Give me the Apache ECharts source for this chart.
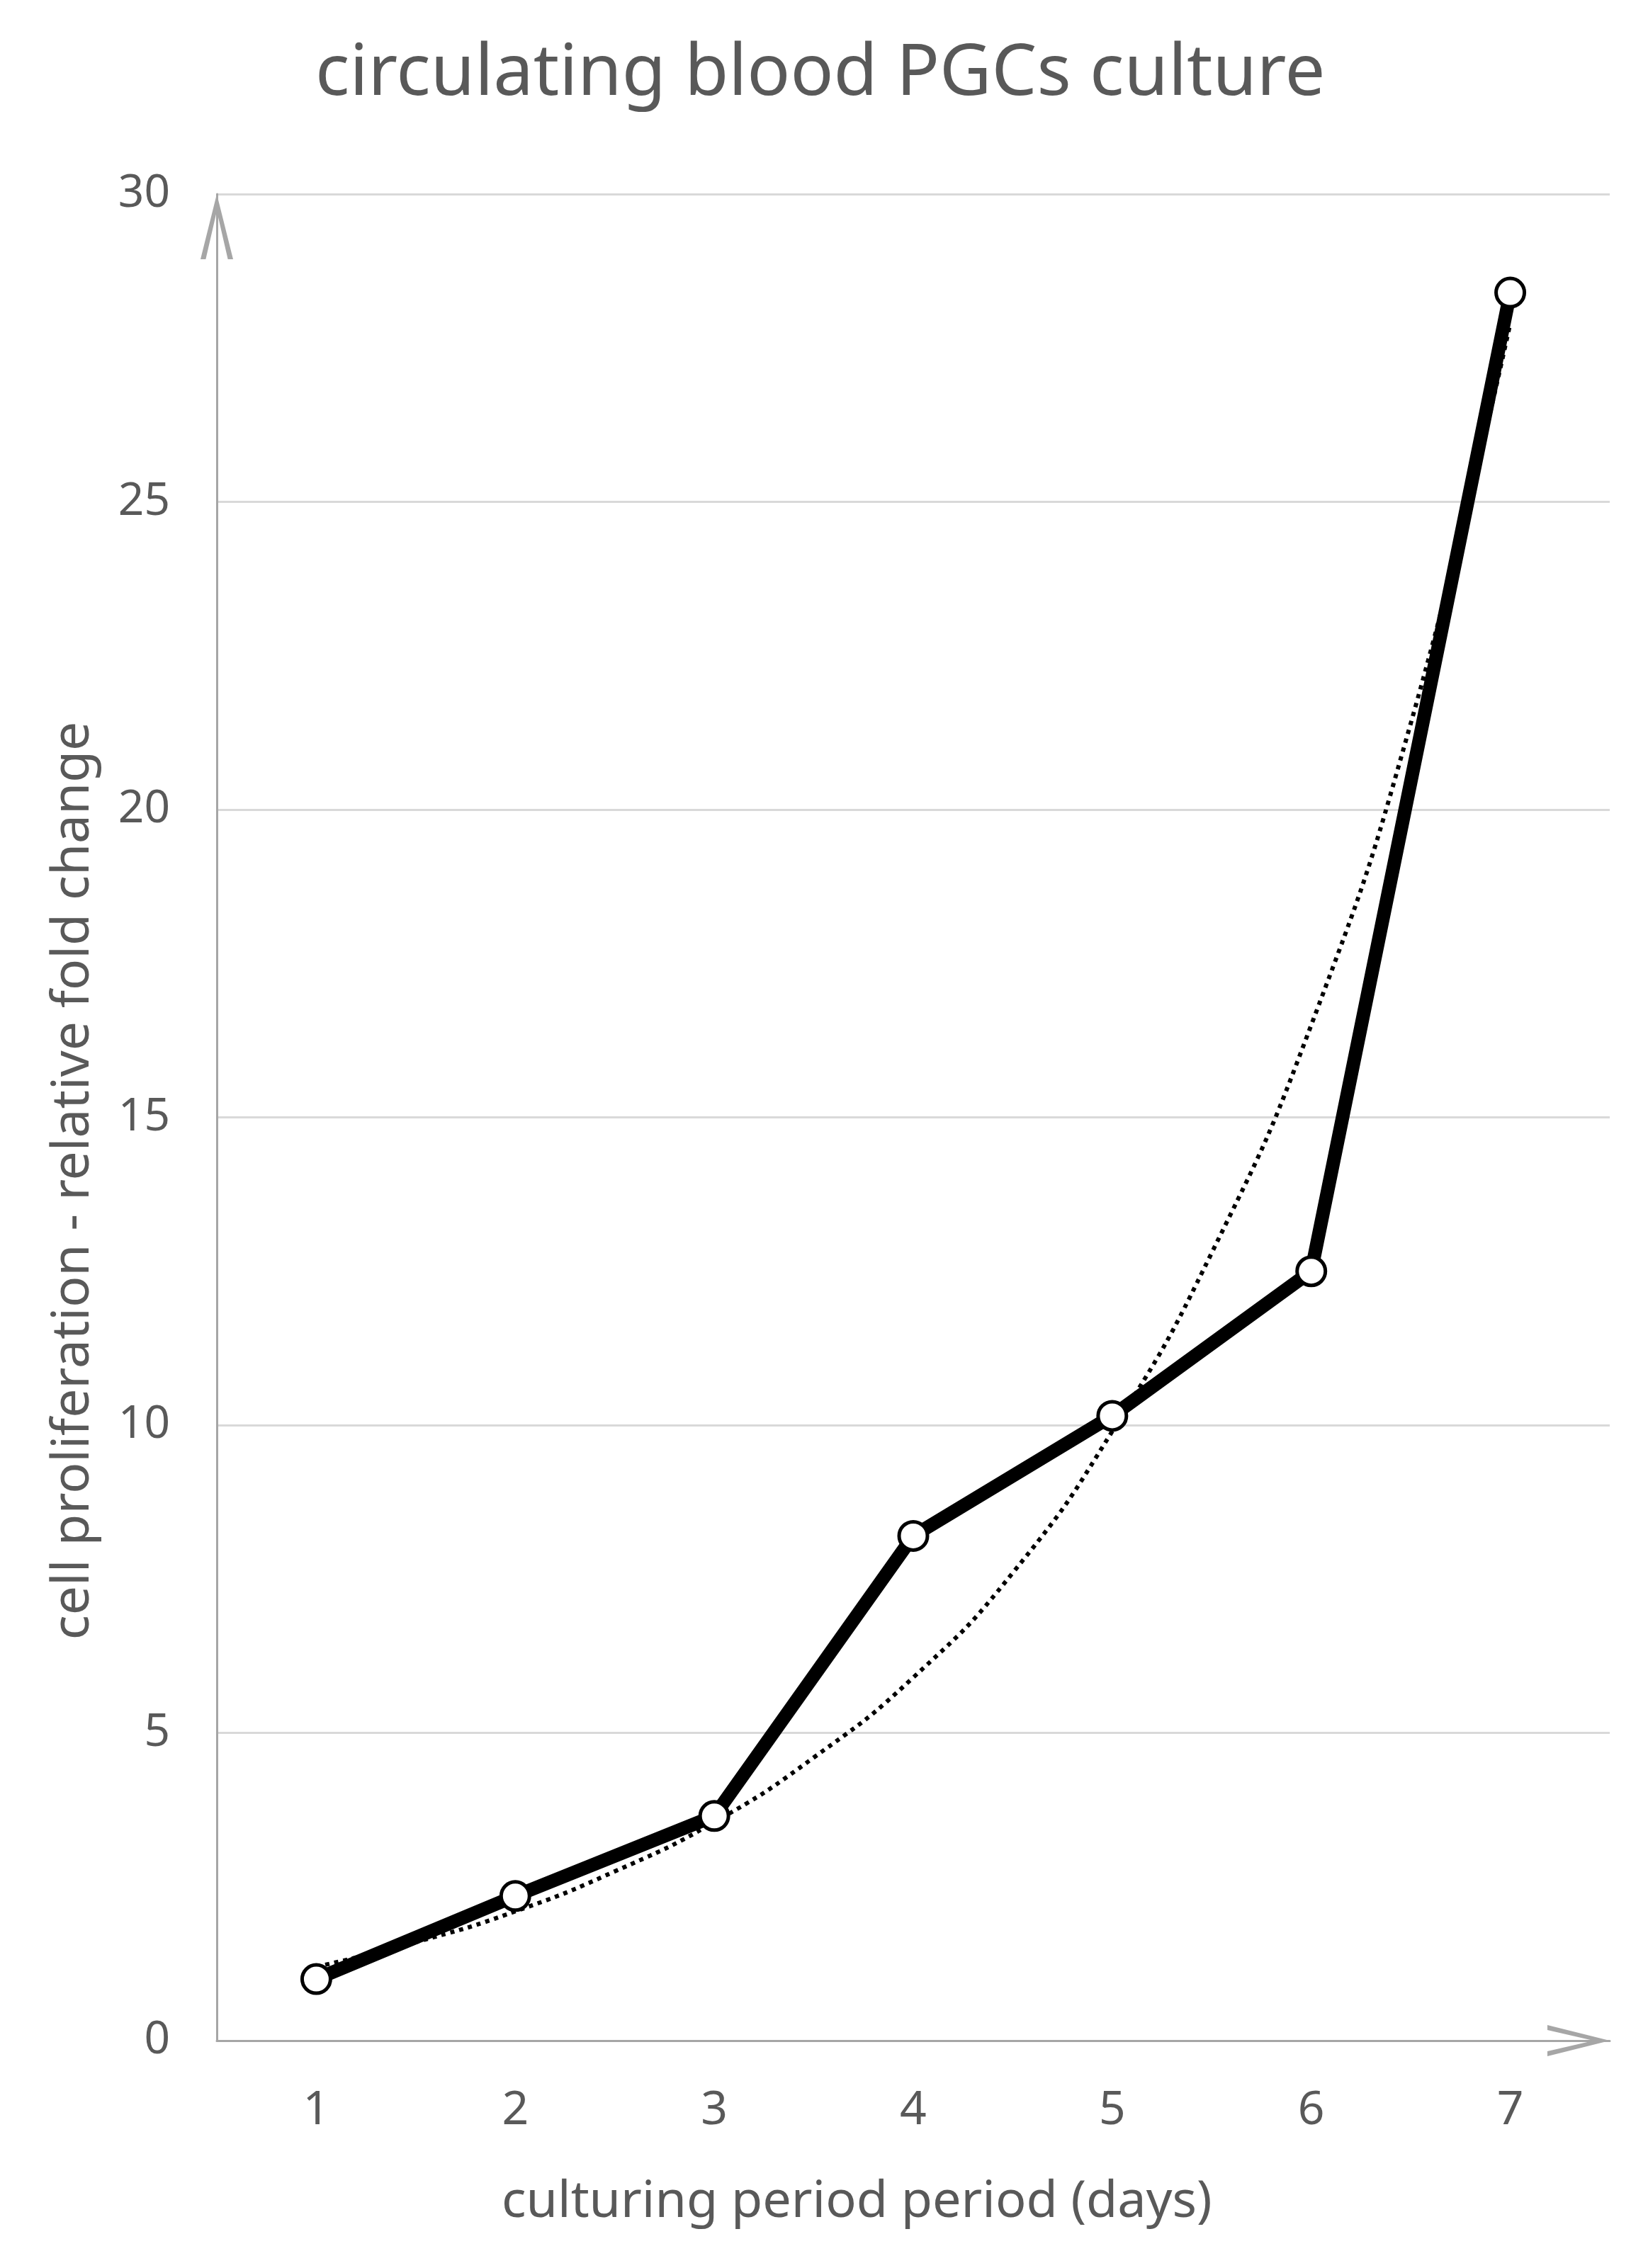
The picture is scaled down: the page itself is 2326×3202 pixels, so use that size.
<!DOCTYPE html>
<html>
<head>
<meta charset="utf-8">
<title>circulating blood PGCs culture</title>
<script src="https://cdn.jsdelivr.net/npm/echarts@6/dist/echarts.min.js"></script>
<style>
    html, body { margin: 0; padding: 0; background: #fff; }
    #chart { width: 2326px; height: 3202px; }
</style>
</head>
<body>
<div id="chart"></div>
<script>
    // days on the x axis
    var days = ['1', '2', '3', '4', '5', '6', '7'];
    // fold change
    var foldChange = [1.0, 2.35, 3.65, 8.2, 10.15, 12.5, 28.4];
    // dotted trend curve, read at half-day steps
    var trendX = [1, 1.5, 2, 2.5, 3, 3.5, 4, 4.5, 5, 5.5, 6, 6.5, 7];
    var trendY = [1.2, 1.6, 2.1, 2.75, 3.55, 4.6, 5.9, 7.6, 9.9, 12.8, 16.5, 21.4, 27.9];
    var yTicks = [0, 5, 10, 15, 20, 25, 30];

    var grey = '#595959';
    var axisGrey = '#a6a6a6';
    // open chevron used as axis arrow head
    var chevron = 'path://M0,100 L25,0 L50,100 L42,100 L25,26 L8,100 Z';

    var trendData = [];
    for (var i = 0; i < trendX.length; i++) {
        trendData.push([trendX[i], trendY[i]]);
    }

    var chart = echarts.init(document.getElementById('chart'));
    chart.setOption({
        backgroundColor: '#fff',
        animation: false,
        title: [
            {
                text: 'circulating blood PGCs culture',
                left: 440,
                top: 50,
                textStyle: { fontFamily: 'Noto Sans', fontSize: 101, fontWeight: 'normal', color: grey }
            },
            {
                text: 'culturing period period (days)',
                left: 703,
                top: 3068,
                textStyle: { fontFamily: 'Noto Sans', fontSize: 72, fontWeight: 'normal', color: grey }
            }
        ],
        graphic: [
            {
                type: 'text',
                x: 104,
                y: 1667,
                rotation: Math.PI / 2,
                style: {
                    text: 'cell proliferation - relative fold change',
                    fontFamily: 'Noto Sans',
                    fontSize: 73,
                    fill: grey,
                    align: 'center',
                    verticalAlign: 'middle'
                }
            }
        ],
        grid: { left: 306, right: 54, top: 274, bottom: 321, containLabel: false },
        xAxis: [
            {
                type: 'category',
                data: days,
                boundaryGap: true,
                axisLine: {
                    lineStyle: { color: axisGrey, width: 3 },
                    symbol: ['none', chevron],
                    symbolSize: [47, 88],
                    symbolOffset: [0, -44]
                },
                axisTick: { show: false },
                axisLabel: { color: grey, fontFamily: 'Noto Sans', fontSize: 66, margin: 66 },
                splitLine: { show: false }
            },
            {
                type: 'value',
                min: 0.5,
                max: 7.5,
                show: false,
                splitLine: { show: false }
            }
        ],
        yAxis: {
            type: 'value',
            min: yTicks[0],
            max: yTicks[yTicks.length - 1],
            interval: 5,
            axisLine: {
                show: true,
                lineStyle: { color: axisGrey, width: 3 },
                symbol: ['none', chevron],
                symbolSize: [47, 92],
                symbolOffset: [0, -46]
            },
            axisTick: { show: false },
            axisLabel: { color: grey, fontFamily: 'Noto Sans', fontSize: 64, margin: 66 },
            splitLine: { lineStyle: { color: '#d9d9d9', width: 3 } }
        },
        series: [
            {
                name: 'trend',
                type: 'line',
                xAxisIndex: 1,
                data: trendData,
                smooth: true,
                showSymbol: false,
                symbol: 'none',
                z: 1,
                lineStyle: { color: '#000', width: 6, type: [6, 7], cap: 'butt' }
            },
            {
                name: 'fold change',
                type: 'line',
                data: foldChange,
                symbol: 'circle',
                symbolSize: 40,
                z: 3,
                lineStyle: { color: '#000', width: 19 },
                itemStyle: { color: '#fff', borderColor: '#000', borderWidth: 5 }
            }
        ]
    });
</script>
</body>
</html>
